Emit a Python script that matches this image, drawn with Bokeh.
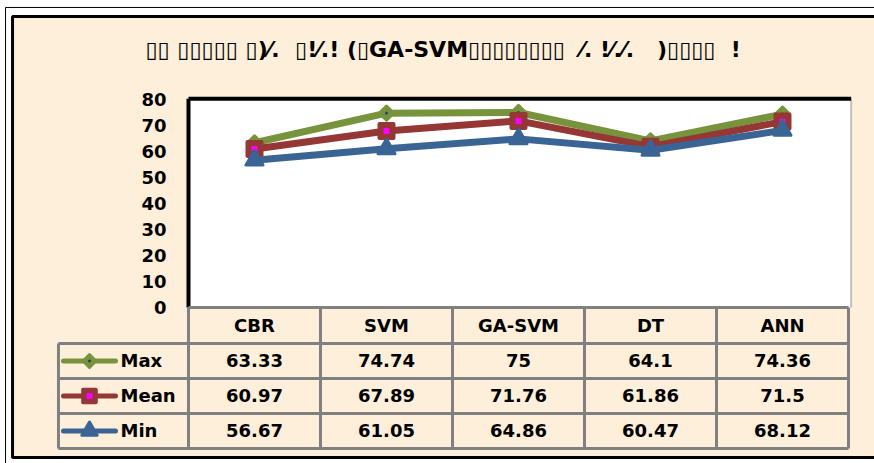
from bokeh.plotting import figure
from bokeh.models import Range1d, LinearAxis, FixedTicker
from bokeh.embed import file_html
from bokeh.resources import INLINE
from bokeh.core.properties import value

# ---- data ----
categories = ["CBR", "SVM", "GA-SVM", "DT", "ANN"]
max_vals = [63.33, 74.74, 75, 64.1, 74.36]
mean_vals = [60.97, 67.89, 71.76, 61.86, 71.5]
min_vals = [56.67, 61.05, 64.86, 60.47, 68.12]
series_names = ["Max", "Mean", "Min"]
y_ticks = [0, 10, 20, 30, 40, 50, 60, 70, 80]
S = "\u00a0"
title_text = ("▯▯" + S + "▯▯▯▯▯" + S + "▯)⁄." + S * 2 + "▯!⁄.!" + S + "(▯GA-SVM▯▯▯▯▯▯▯▯"
              + S * 2 + "⁄." + S + "!⁄.⁄." + S * 3 + ")▯▯▯▯" + S * 2 + "!")

# ---- style ----
BEIGE = "#FDEFDA"
GREEN = "#77933C"
RED = "#953735"
BLUE = "#3A6494"
GRID = "#808080"
FONT = value("DejaVu Sans")
colors = [GREEN, RED, BLUE]

W, H = 874, 463
p = figure(width=W, height=H, output_backend="svg", toolbar_location=None,
           x_range=Range1d(-1.4242, 5.1970), y_range=Range1d(-60.0, 118.077),
           min_border=0, x_axis_type=None, y_axis_type=None)
p.outline_line_color = None
p.background_fill_color = "white"
p.border_fill_color = "white"

n = len(categories)
xs = [i + 0.5 for i in range(n)]
ymax = 80.3
header_h = 13.85
row_h = 13.45
leg_left = -0.985
table_bottom = -(header_h + 3 * row_h)

# frames
p.quad(left=[-1.386], right=[5.4], top=[115.4], bottom=[-65], fill_color=None,
       line_color="black", line_width=1)
p.quad(left=[-1.333], right=[5.4], top=[111.9], bottom=[-57.7], fill_color=BEIGE,
       line_color="black", line_width=3)

# plot area
p.quad(left=[0], right=[n + 0.02], top=[ymax], bottom=[0], fill_color="white", line_color=None)
p.segment(x0=[n + 0.02], y0=[0], x1=[n + 0.02], y1=[ymax], line_color="#C0C0C0", line_width=2)
p.segment(x0=[0, 0], y0=[0, ymax], x1=[0, n + 0.02], y1=[ymax, ymax],
          line_color="black", line_width=4)

# y axis
ax = LinearAxis(fixed_location=0, ticker=FixedTicker(ticks=y_ticks), bounds=(0, 80))
ax.axis_line_color = None
ax.major_tick_line_color = None
ax.minor_tick_line_color = None
ax.major_tick_out = 0
ax.major_tick_in = 0
ax.major_label_standoff = 22
ax.major_label_text_font = "DejaVu Sans"
ax.major_label_text_font_style = "bold"
ax.major_label_text_font_size = "18px"
ax.major_label_text_color = "black"
p.add_layout(ax, "left")

# table grid
hy = [-header_h - k * row_h for k in range(4)]
p.segment(x0=[leg_left] * 4, y0=hy, x1=[n] * 4, y1=hy, line_color=GRID, line_width=3)
p.segment(x0=[0], y0=[0], x1=[n], y1=[0], line_color=GRID, line_width=3)
vx = list(range(n + 1))
p.segment(x0=vx, y0=[0] * len(vx), x1=vx, y1=[table_bottom] * len(vx), line_color=GRID, line_width=3)
p.segment(x0=[leg_left], y0=[-header_h], x1=[leg_left], y1=[table_bottom], line_color=GRID, line_width=3)

# series
all_vals = [max_vals, mean_vals, min_vals]
row_c = [-header_h - (k + 0.5) * row_h for k in range(3)]

def markers(x, y, k, scale=1.0):
    c = colors[k]
    if k == 0:
        p.scatter(x, y, marker="square", angle=0.785398, size=10 * scale, fill_color=c,
                  line_color=c, line_width=3, line_join="round")
        p.scatter(x, y, marker="circle", size=2, color="#1F3A7A")
    elif k == 1:
        p.scatter(x, y, marker="square", size=14 * scale, fill_color=c, line_color=c,
                  line_width=4, line_join="round")
        p.scatter(x, y, marker="square", size=5, color="#FF00FF")
    else:
        p.scatter(x, y, marker="triangle", size=17 * scale, fill_color=c, line_color=c,
                  line_width=3, line_join="round")

for k, vals in enumerate(all_vals):
    p.line(xs, vals, line_color=colors[k], line_width=7, line_join="round", line_cap="round")
    markers(xs, vals, k)

# legend keys in table
for k, name in enumerate(series_names):
    yc = row_c[k]
    p.segment(x0=[-0.947], y0=[yc], x1=[-0.553], y1=[yc], line_color=colors[k],
              line_width=5, line_cap="round")
    markers([-0.75], [yc], k, 0.9)
p.text(x=[-0.515] * 3, y=row_c, text=series_names, text_font=FONT, text_font_style="bold",
       text_font_size="18px", text_align="left", text_baseline="middle", text_color="black")

# header + values
p.text(x=xs, y=[-header_h / 2] * n, text=categories, text_font=FONT, text_font_style="bold",
       text_font_size="18px", text_align="center", text_baseline="middle", text_color="black")
for k, vals in enumerate(all_vals):
    p.text(x=xs, y=[row_c[k]] * n, text=[f"{v:g}" for v in vals], text_font=FONT,
           text_font_style="bold", text_font_size="18px", text_align="center",
           text_baseline="middle", text_color="black")

# title
p.text(x=[-0.326], y=[99.2], text=[title_text], text_font=FONT, text_font_style="bold",
       text_font_size="22px", text_align="left", text_baseline="middle", text_color="black")

open("out.html", "w").write(file_html(p, INLINE))
